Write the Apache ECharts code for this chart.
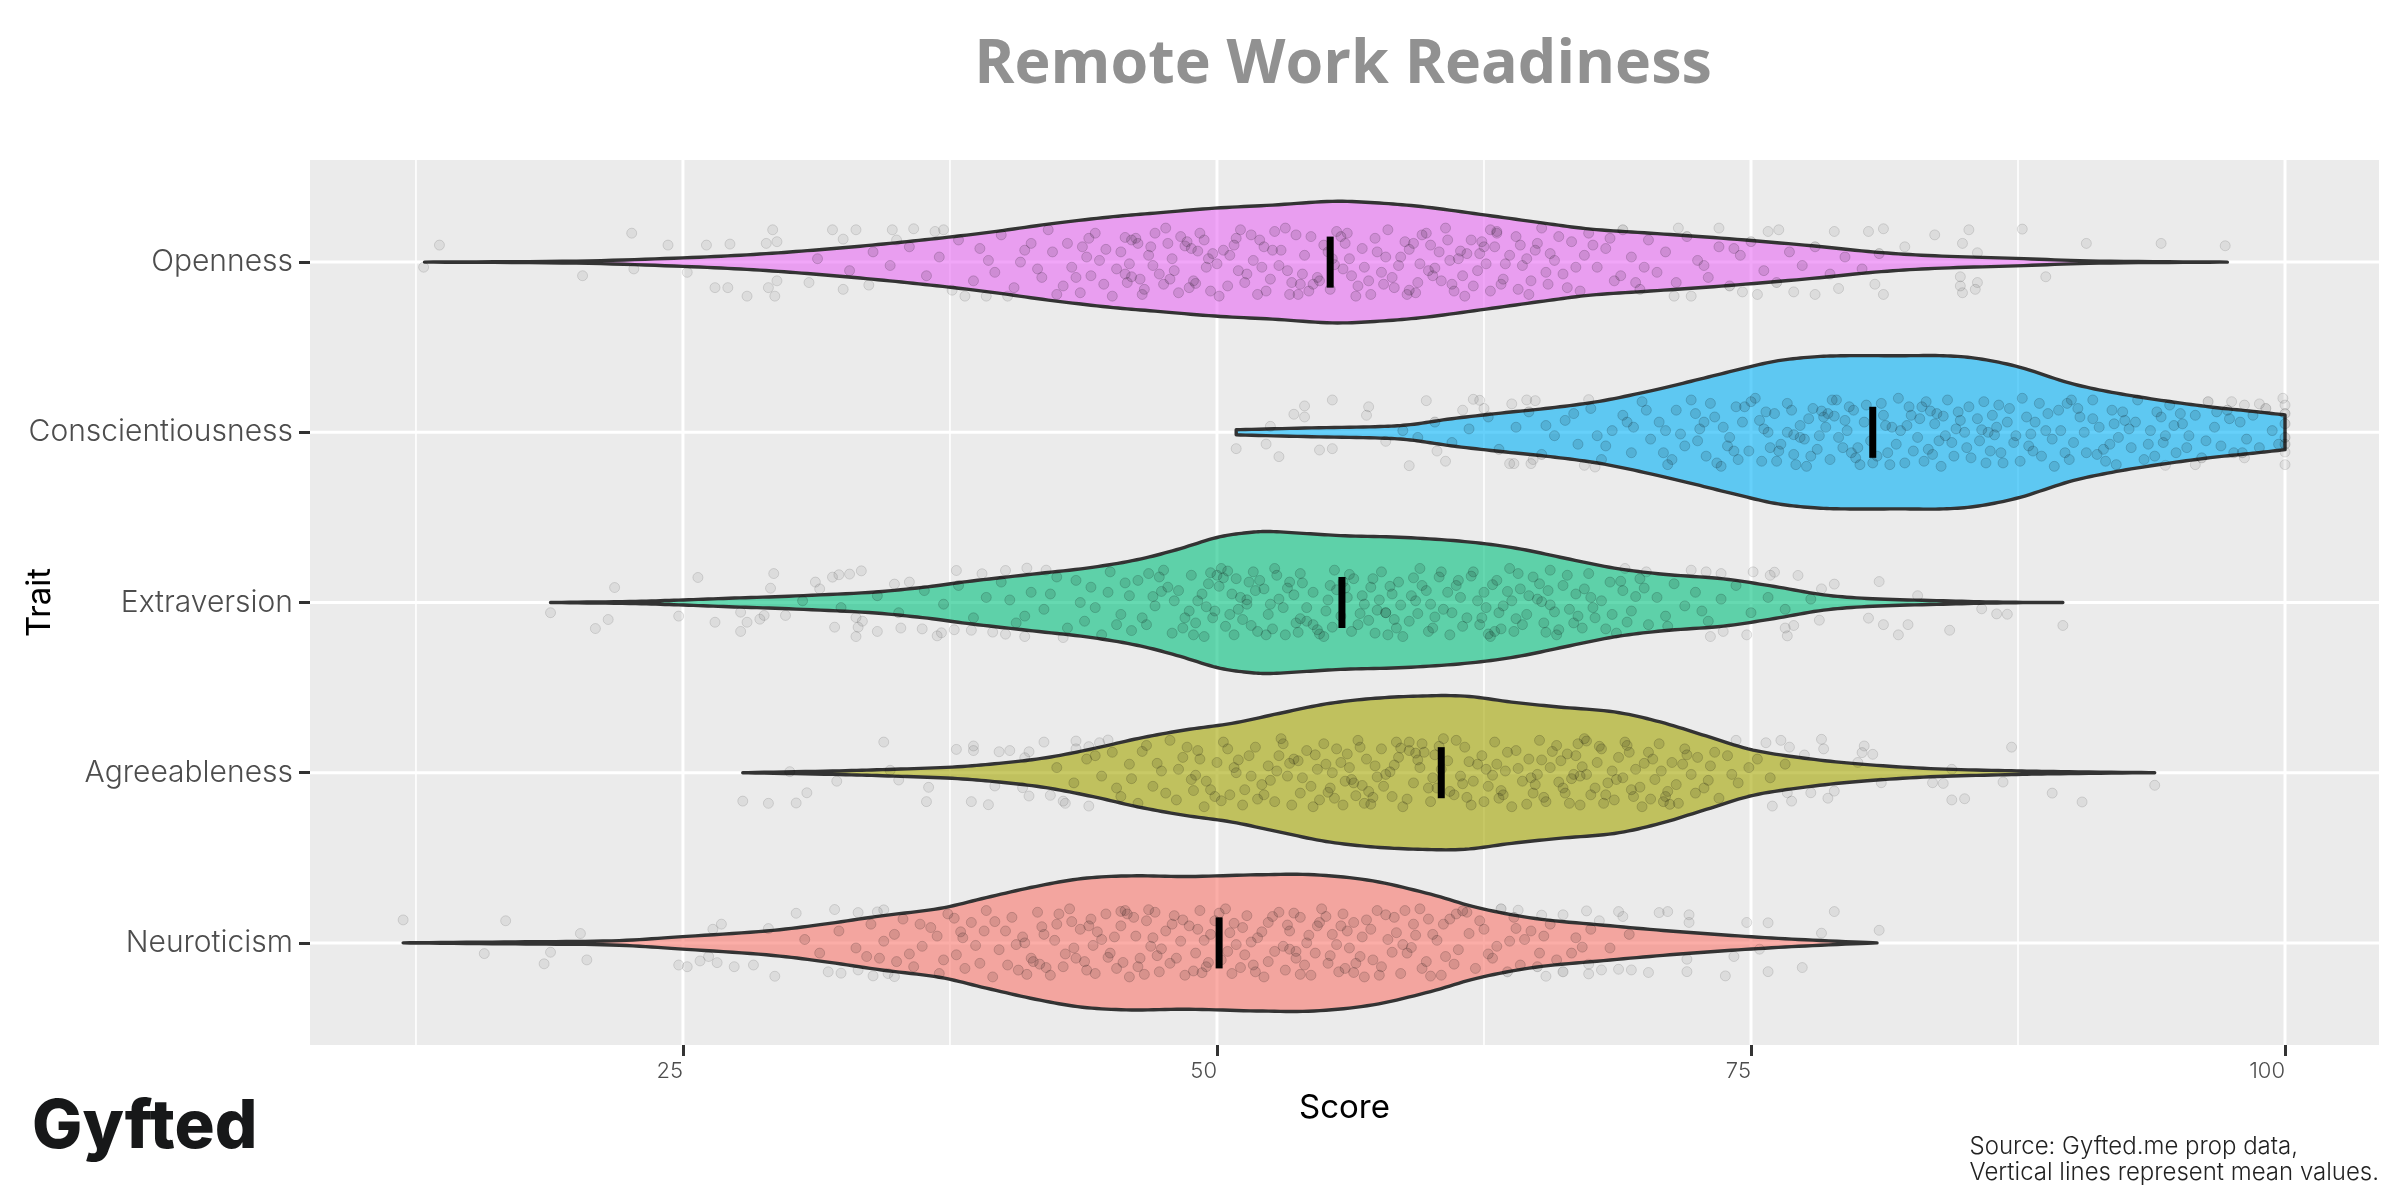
<!DOCTYPE html>
<html><head><meta charset="utf-8">
<style>html,body{margin:0;padding:0;background:#fff}#c{width:2400px;height:1200px}</style>
<script src="https://cdn.jsdelivr.net/npm/echarts@6/dist/echarts.min.js"></script>
</head><body><div id="c"></div>
<script>
const categories = ['Neuroticism','Agreeableness','Extraversion','Conscientiousness','Openness'];
const xTicks = [25,50,75,100];
const xMinor = [12.5,37.5,62.5,87.5];
const means = [50.1,60.5,55.85,80.7,55.3];
const fills = ['#F8766D','#A3A500','#00BF7D','#00B0F6','#E76BF3'];

// violin outlines: score, half-width in hundredths of a category band
const scoreNeuro = [11.9,17.15,21.65,24.8,28.9,31.6,34.3,37,39.2,41.5,43.7,46,48.7,51.85,54.55,57.3,60,62.2,64.9,68.1,71.2,74.4,77.55,80.9];
const widthNeuro = [0,0.6,1.2,3.5,7,11,15.9,20.2,26.6,33.1,37.8,39.4,39,40,40,36.4,28.6,20.7,14.3,10.4,7,4.1,1.8,0];
const scoreAgree = [27.8,32,34.6,37.6,39.8,42,44.2,46.35,48.5,50.7,52.9,55.1,57.2,59.4,61.6,63.8,66,68.6,70.75,72.9,75.1,77.7,80.3,83.4,86.9,89.5,93.9];
const widthAgree = [0,1,1.9,3.3,5.5,8.8,14.1,20.2,25.1,29,34.8,40.4,43.5,45,45,41.5,38.6,35.7,29.8,21.6,13.3,8.2,4.9,2.4,1.2,0.6,0];
const scoreExtra = [18.8,22.5,24.8,27.15,29.95,33.7,36.45,38.3,41.1,43.9,46.25,48.1,50,51.4,52.5,54.2,56,58.8,61.6,64,66.3,68.6,70.9,73.7,76.1,78.4,80.7,84,86.8,89.6];
const widthExtra = [0,0.6,1.4,2.5,3.7,5.9,9.2,12.3,16.3,20.2,25.1,31,38.2,41,41.7,40.5,39.2,38.2,35.8,31.9,26,20.2,16.6,13.9,9.4,4.5,2.2,1,0.2,0];
const scoreConsc = [50.9,54.1,57.4,59.05,61,63.3,65.6,67.9,70.2,72.2,74.2,76.1,77.8,79.4,82,84,85.65,87.6,89.9,91.9,94.2,96.5,98.5,100];
const widthConsc = [1.5,2.5,3.3,4.5,8,11.3,14.3,18.2,24.1,30,36.2,41.7,44.2,45,45,45,43.3,38.2,29,23.5,18.8,14.9,12.3,10.2];
const scoreOpen = [12.9,20,25,28.3,31.1,33.85,36.6,39.4,42.1,44.9,47.1,49.9,52.6,55.4,57.6,59.8,62.6,65.3,67.5,70.3,73.6,77.5,80.8,83.6,87.4,91.3,97.3];
const widthOpen = [0,0.6,2.5,4.5,7,10,13.5,17.6,22.3,26.4,28.8,31.7,33.5,35.7,34.7,32.3,27.6,22.9,19.4,17,14.1,10,5.9,3.7,2.2,0.6,0];

// jittered respondents: score, offset from the row in hundredths of a band. tails read one by one, core estimated
const tailNeuro = [[11.9,13.5],[16.7,13],[20.2,5.5],[15.7,-6.3],[18.8,-5.5],[18.5,-12.3],[20.5,-10],[24.8,-13],[25.2,-14],[25.8,-10.6],[26.2,-8],[26.6,-11.6],[27.4,-14],[28.3,-13],[29.3,-19.6],[26.8,11],[26.4,8],[29,8.4],[30.3,17.4],[32.1,19.6],[33.2,17.8],[34.1,18.2],[34.4,19.4],[31.8,-17],[32.4,-17.8],[33.2,-15.9],[33.9,-19.4],[34.6,-18],[34.9,-19.8],[64.1,19.2],[65.2,16.3],[66.2,16.5],[67.3,18.8],[67.9,13],[68.8,18.4],[69,15.5],[70.7,17.8],[71.1,18.4],[72.1,16.5],[72.1,12],[74.8,12],[75.8,11.8],[78.9,18.4],[78.3,5.7],[81,7.4],[67.4,-12.5],[67.4,-18.2],[65.4,-19.6],[68,-15.9],[68.8,-15.5],[69.4,-15.9],[70.2,-17.4],[72,-16.9],[73.8,-19.4],[75.8,-16.9],[77.4,-14.5],[74.2,-8],[72,-9.6],[75.4,-3.7]];
const coreNeuro = [[30.7,2],[31.4,-6],[32.3,7],[33.1,-3],[33.8,11],[34.2,-9],[34.9,5],[35.3,14],[35.8,-14],[36.2,-2],[36.6,9],[37,-18],[37.4,17],[37.8,-7],[38.1,3],[38.5,12],[38.9,-12],[39.2,19],[39.5,-20],[39.8,-4],[40.1,7],[40.4,15],[40.7,-16],[41,0],[41.3,-9],[41.6,18],[41.9,5],[42.2,-19],[42.5,11],[42.8,-14],[43.1,20],[43.3,-3],[43.6,8],[43.8,-11],[44.1,14],[44.3,-18],[44.6,2],[44.8,17],[45,-6],[45.3,-15],[45.5,10],[45.7,19],[45.9,-20],[46.2,4],[46.4,-9],[46.7,13],[46.9,-2],[47.1,18],[47.3,-17],[47.6,7],[47.8,-12],[48,16],[48.3,1],[48.5,-19],[48.7,10],[49,-6],[49.2,19],[49.5,-14],[49.7,5],[49.9,13],[50.2,-10],[50.4,20],[50.7,-18],[50.9,-1],[51.2,9],[51.4,16],[51.7,-13],[51.9,3],[52.2,-20],[52.4,12],[52.7,-5],[52.9,18],[53.2,-16],[53.4,7],[53.7,-9],[53.9,15],[54.2,0],[54.4,-19],[54.7,10],[54.9,20],[55.2,-12],[55.4,5],[55.7,-17],[55.9,17],[56.2,-3],[56.4,12],[56.7,-8],[56.9,-20],[57.2,8],[57.5,19],[57.7,-14],[58,2],[58.3,15],[58.6,-18],[58.9,-6],[59.2,11],[59.5,20],[59.8,-11],[60.1,5],[60.5,-19],[60.9,14],[61.3,-4],[61.7,18],[62.1,-15],[62.5,8],[62.9,-9],[63.3,20],[63.7,1],[64.2,-13],[64.7,7],[65.1,-6],[65.6,11],[66.2,-17],[66.8,3],[67.5,8],[68.4,-3],[69.3,5],
[45.8,17],[46.1,15],[45.5,18.5],[53.4,-3.7],[53.1,-2],[53.7,-5],[41.7,-12.5],[41.4,-11],[42,-14.5],[56.4,-17.4],[56,-15],[59.1,-2.7],[58.7,-1],[61.5,18.8],[61.2,17],[38.2,-15],[44.4,6.5],[47.4,-3.5],[50.6,6],[54.1,-13],[49.4,1.5],[43.9,-16],[48.9,-16.5],[52.6,15.5],[57.3,-10],[60.3,1.5],[35.6,-6.5],[39.6,12.5],[42.4,1.5],[46.6,-18.5],[51.3,-7],[55.1,15.5],[58.2,-5.5],[63.1,-2],[36.9,4],[40.6,-1],[44.9,-8.5],[47.9,11],[50.1,17.5],[53.3,10.5],[56.1,7],[59.6,-15],[62.3,13],[65.3,4],[37.7,14.5],[41.1,-18.5],[45.2,3.5],[48.1,-9],[51.8,-17],[54.6,-6],[57.9,16.5],[60.7,-8],[64,8.5],[34.4,1],[38.7,-1.5],[43.2,12.5],[46.3,-14],[49.6,-11.5],[52.1,6.5],[55.6,-1],[58.4,6],[61.1,-12.5],[66.6,-6],[36.1,11],[40.2,-13],[42.9,-6.5],[47,3],[50.5,-5],[53.9,-18.5],[56.8,3.5],[59.9,14],[63.6,-17],[33.6,-8],[39.1,7],[44.2,-1.5],[48.4,13.5],[51.6,0.5],[54.8,12],[57.6,-19],[61.8,5.5],[65.9,-10],[35,-11],[37.2,-10],[41.8,9.5],[45.6,-11.5],[49.1,8],[52.4,-11],[55.3,-7.5],[58.8,19],[62.7,-6.5],[67.1,-2.5],[40.9,3.5],[43.4,-9],[46.8,19.5],[50.8,11.5],[54.3,4.5],[57,13.5],[60,-19.5],[64.4,2],[42.6,17],[47.2,-7.5],[51.1,-14.5],[55.8,10],[59.3,4.5],[63.9,15],[38,6.5],[44,10],[49.3,-17.5],[53.6,17.5],[56.5,-12],[60.6,11],[65,-14]];

const tailAgree = [[27.8,-16.7],[29,-18],[30.3,-17.8],[30.8,-11.8],[30,0.6],[32.2,-5],[34.4,18],[34.7,1.4],[35.1,-4.3],[36.4,-17],[36.5,-8.6],[37.8,13.7],[38.6,15.7],[38.6,13],[38.5,-17],[39.3,-18.8],[39.6,-7.8],[39.8,12.3],[40.3,13],[41.2,12.3],[41,8.8],[41.9,18],[41.2,-13.7],[42.2,-13.3],[40.9,-8.8],[42.8,-16.7],[42.9,-18],[44,-19.6],[43.4,18.6],[43.4,14],[44,15.3],[44.5,17.6],[44.9,19.2],[74.3,19],[75.7,17.6],[76.4,19],[76.8,15],[77.5,10.4],[78.3,19.6],[78.4,14],[80.3,15.7],[80.2,11.8],[80.7,10.8],[80,6],[84.4,2],[87.2,15],[81.1,-5.9],[83.5,-5.9],[84,-6.3],[86.8,-5.5],[89.1,-12],[90.5,-17.2],[93.9,-7.4],[84.4,-16],[85,-15.3],[78.9,-10.8],[78.6,-15],[77.8,-11.8],[76.9,-16.7],[76,-19.6],[76.7,-11.8]];
const coreAgree = [[42.5,3],[43.3,-6],[43.9,8],[44.6,-2],[45.1,12],[45.5,-14],[45.9,5],[46.3,-18],[46.7,16],[47,-8],[47.4,1],[47.8,19],[48.1,-16],[48.4,9],[48.8,-4],[49.1,13],[49.4,-20],[49.7,-10],[50,6],[50.3,18],[50.6,-13],[50.9,0],[51.2,-19],[51.5,10],[51.8,15],[52.1,-7],[52.4,4],[52.7,-17],[53,20],[53.3,-2],[53.6,8],[53.9,-12],[54.2,13],[54.5,-20],[54.7,2],[55,17],[55.3,-9],[55.5,-15],[55.8,6],[56.1,11],[56.3,-4],[56.6,19],[56.9,-18],[57.1,-11],[57.4,4],[57.7,14],[57.9,-1],[58.2,-14],[58.5,9],[58.7,-20],[59,18],[59.2,-6],[59.5,3],[59.7,12],[60,-17],[60.3,-9],[60.6,20],[60.8,7],[61.1,-13],[61.4,-2],[61.6,15],[61.9,-19],[62.2,5],[62.4,10],[62.7,-8],[63,18],[63.2,-15],[63.5,1],[63.8,-20],[64,13],[64.3,-5],[64.6,8],[64.8,-12],[65.1,19],[65.4,-17],[65.6,3],[65.9,16],[66.2,-9],[66.4,11],[66.7,-1],[67,-19],[67.2,20],[67.5,-13],[67.8,6],[68,14],[68.3,-6],[68.6,-16],[68.8,9],[69.1,18],[69.4,-10],[69.6,2],[69.9,-20],[70.2,12],[70.5,-4],[70.7,17],[71,-14],[71.3,6],[71.6,-18],[71.9,14],[72.2,-1],[72.5,9],[72.8,-9],[73.1,4],[73.5,-15],[73.9,10],[74.4,-6],[74.9,3],[75.3,8],[75.9,-3],[76.6,5],
[56.4,-6],[56,-5],[56.8,-7.5],[59,13],[58.6,14.5],[59.3,11.5],[67,-2],[66.6,-3.5],[67.3,-1],[71.2,-18.6],[70.9,-17],[53.8,7],[53.4,5.5],[67.3,18.6],[66.9,17],[49.5,-5],[51,7.5],[52.2,-13],[54,-3],[55.6,14],[57.2,-18.5],[58.1,0.5],[60.1,-3],[61.8,6.5],[63.3,-10.5],[65,-1],[66.1,7],[68.1,-18],[69.3,12],[70.8,1],[72.4,-12],[48.6,15],[50.2,-16.5],[52.9,10],[54.8,-16],[56.2,3],[57.8,-8],[59.6,17],[60.9,-11],[62.5,-17],[64.1,2.5],[65.7,12.5],[67.7,-9],[69,-3],[70.4,8],[71.5,-7],[73.3,12],[47.2,5.5],[49.9,-14],[51.6,-2],[53.1,17],[55.2,-11.5],[57,8],[58.9,-15.5],[60.5,2],[62,-5],[63.6,12],[65.3,-14.5],[66.8,10],[68.5,1],[69.8,-8.5],[71.8,5],[46,-3.5],[48.2,2],[50.5,14],[52.5,-4.5],[54.4,-8],[55.9,-19],[57.5,-2.5],[59.4,7.5],[61.2,19],[62.9,-1.5],[64.5,-18.5],[66,-5.5],[67.9,15.5],[69.5,-14],[72,10.5],[44.3,10],[47.6,-12],[49.2,8],[51.3,-10],[53.5,-19],[55.4,0],[56.7,15],[58.3,4.5],[60.2,10.5],[61.7,-14.5],[63.1,5],[64.9,-7],[66.5,-18],[68.2,-13],[70,5.5],[73,-4.5],[45.3,-9],[48.9,-10.5],[50.8,3],[52.8,1],[54.6,10.5],[56.5,-13.5],[58.4,18],[59.9,-9],[61.5,-6.5],[63.4,-13],[65.2,7.5],[67.1,3.5],[69.2,16],[71.1,-11],[74.1,-1],[46.5,12.5],[49,-1.5],[51.9,-15.5],[55.1,5],[57.3,-14.5],[60.4,15.5],[62.6,2],[64.7,-3],[66.3,-12],[68.7,-4],[70.3,-15.5]];

const tailExtra = [[18.8,-6],[21.8,8.8],[20.9,-15.3],[21.5,-10],[24.8,-8],[25.7,14.7],[26.5,-11.6],[27.7,-5.7],[28,-11.6],[27.7,-17],[28.8,-7.6],[28.6,-9.8],[29.8,-7.6],[29.25,17],[29.1,8.4],[31.2,12],[31.4,8],[32,14.9],[32.3,16.3],[32.8,16.7],[33.35,18.6],[32.1,-14.5],[33.2,-14.5],[33.1,-20],[33.4,-11],[33.1,-8.8],[34.1,-17],[35.2,-15],[36.2,-15.5],[36.9,-19.6],[37.1,-17.8],[37.7,-16],[38.5,-16.3],[39.5,-17.4],[40.1,-18.6],[41,-20],[34.9,10.8],[35.6,12],[37.8,18.8],[39,16.9],[40.1,18.8],[41.1,20.2],[42,19],[42.8,-20.6],[69.1,20],[70.1,18],[72.2,19],[72.9,18],[73.6,17],[75.1,18],[75.9,16],[76.1,17.8],[77.2,15.9],[78.9,10.8],[78.3,8],[81,12.3],[82.8,4],[80.5,-9.2],[81.2,-13],[82.35,-13],[81.9,-19],[84.3,-16.3],[85.8,-3.7],[86.5,-6.7],[87,-6.9],[89.6,-13.5],[78.2,-10.4],[77,-13.5],[76.6,-15],[76.7,-19.6],[74.8,-19],[73.1,-20],[73.7,-17]];
const coreExtra = [[30.6,1],[32.4,-3],[34.1,4],[35.1,-6],[36.3,7],[37.2,-1],[37.9,10],[38.6,-9],[39.2,3],[39.9,12],[40.6,-12],[41.3,6],[41.9,-4],[42.5,15],[43,-15],[43.6,0],[44.1,9],[44.6,-19],[45,18],[45.5,-7],[45.9,4],[46.3,13],[46.7,-13],[47.1,-2],[47.5,19],[47.9,-18],[48.2,7],[48.5,-9],[48.8,16],[49.1,1],[49.4,-20],[49.6,11],[49.9,-5],[50.2,20],[50.4,-14],[50.7,5],[50.9,14],[51.2,-10],[51.4,-1],[51.7,18],[51.9,-17],[52.2,8],[52.4,-7],[52.7,20],[52.9,2],[53.2,-19],[53.4,12],[53.7,-12],[53.9,17],[54.2,-3],[54.5,6],[54.7,-16],[55,-20],[55.3,10],[55.5,19],[55.8,-8],[56.1,3],[56.4,14],[56.6,-13],[56.9,-1],[57.2,9],[57.4,-18],[57.7,18],[57.9,-6],[58.2,5],[58.5,12],[58.7,-20],[59,-11],[59.3,1],[59.5,20],[59.8,7],[60.1,-15],[60.4,15],[60.6,-4],[60.9,-19],[61.2,10],[61.4,3],[61.7,-9],[62,18],[62.3,-13],[62.5,6],[62.8,-20],[63.1,13],[63.4,-2],[63.7,20],[63.9,-17],[64.2,8],[64.5,-7],[64.8,15],[65,2],[65.3,-12],[65.6,19],[65.9,-19],[66.2,10],[66.5,-4],[66.8,5],[67.1,-15],[67.4,17],[67.7,-9],[68,1],[68.4,12],[68.7,-18],[69,7],[69.4,-5],[69.8,14],[70.2,-13],[70.6,3],[71,-8],[71.4,11],[71.9,-2],[72.4,6],[73,-11],[73.6,2],[74.3,10],[75,-6],[75.8,3],[76.6,-4],[77.8,2],
[63,-17],[62.7,-18.5],[63.3,-15.5],[54.2,-11],[53.9,-9.5],[54.5,-13],[50,16],[49.7,17.5],[50.3,14.5],[51.4,1.6],[51.1,3],[57.9,-6],[57.5,-4.5],[65.6,-1.4],[65.2,0.5],[47.7,9],[49,-12],[50.6,-7],[52,13],[53.1,-3],[55.2,1.5],[56.2,16.5],[57.1,-10.5],[58.4,-15],[59.6,10],[61,-6],[62.2,1],[64,-9.5],[65.1,11],[66.4,16],[67.6,-3],[68.9,12.5],[44.3,-3],[45.7,11.5],[47,3.5],[48.4,-15],[49.3,5],[50.8,-19],[51.8,7],[52.6,-15.5],[53.6,4.5],[55.1,-5],[56,8.5],[57.3,14],[58.6,-1.5],[59.9,-17],[60.8,6],[61.9,15.5],[63.2,-6],[64.6,4],[66,-16],[67.2,8],[69.2,-11.5],[42.2,5],[43.8,-11],[46,-16.5],[47.3,15],[48.7,-5],[50.1,9.5],[51.5,12],[52.3,-19],[54,11.5],[55.4,-14.5],[56.8,4],[58,-19],[59.2,14.5],[60.2,-8.5],[61.5,-14],[62.9,10.5],[64.3,-13],[65.5,7],[66.9,-8],[68.2,-15.5],[70,8.5],[41,-8],[44.9,6],[46.5,-9],[48,1],[49.5,-2.5],[50.5,18.5],[52.5,-1],[53.8,-17.5],[55.6,7.5],[56.7,-6.5],[58.1,9.5],[59.4,-6.5],[60.5,18],[62.4,-9],[63.6,6.5],[65.8,-5.5],[67.5,3],[71.1,-14],[45.3,-13],[47.4,6.5],[49.8,-9],[51,-4],[52.8,16],[54.8,-18.5],[56.3,-17],[57.6,1.5],[59.1,4],[61.3,13],[62.6,-3],[64.1,17],[66.7,-12],[68.5,-7],[72.7,-5],[40.3,1.5],[43.4,13],[46.8,17],[48.9,-19],[51.6,-13.5],[53.3,8.5],[55.9,12],[58.3,-10],[60,-1],[63.8,1],[65.4,-17.5],[69.6,3.5]];

const tailConsc = [[50.9,-9.6],[52.3,-6.9],[52.9,-14.3],[52.5,3.5],[53.6,10.6],[54.1,15.5],[54.1,9],[55.4,19],[54.8,-10.4],[55.4,-9.6],[57,10],[57.1,15],[57.9,-5.3],[59,-19.6],[59.8,18.6],[60.3,-11],[60.7,-17],[61.5,13],[62,19.4],[62.5,14],[62.3,18.8],[63.8,16.7],[64.5,19],[64.9,18.6],[63.7,-18.4],[63.9,-18.4],[64.8,-16],[64.7,-18.4],[67.2,-19.4],[67.7,-20.4],[67.4,19.2],[99.9,20],[100,16],[100,-11.6],[100,-19],[95.8,-19],[94.4,-19.4],[97.5,18],[98.1,16],[98.8,16.7],[98.1,-15]];
const coreConsc = [[58.7,1],[59.4,-3],[60.2,6],[61,-6],[61.8,2],[62.7,9],[63.2,-10],[64,3],[64.6,12],[65.2,-13],[65.8,-2],[66.3,7],[66.9,-7],[67.5,14],[68,-16],[68.5,1],[69,10],[69.4,-12],[69.9,18],[70.3,-4],[70.7,6],[71.1,-19],[71.5,13],[71.9,-8],[72.2,19],[72.6,2],[72.9,-14],[73.3,9],[73.6,-20],[74,-3],[74.3,15],[74.6,6],[74.9,-11],[75.2,20],[75.5,-17],[75.8,0],[76.1,11],[76.4,-7],[76.7,17],[77,-13],[77.3,4],[77.6,-20],[77.9,14],[78.2,-2],[78.4,9],[78.7,-16],[79,19],[79.3,-9],[79.5,1],[79.8,13],[80.1,-19],[80.3,6],[80.6,-5],[81.1,17],[81.4,-12],[81.6,3],[81.9,20],[82.2,-18],[82.5,10],[82.8,-3],[83,15],[83.3,-10],[83.6,5],[83.9,-20],[84.2,19],[84.4,-6],[84.7,12],[85,0],[85.3,-15],[85.6,8],[85.9,18],[86.2,-11],[86.5,3],[86.8,-18],[87.1,14],[87.4,-2],[87.7,20],[88,-8],[88.3,6],[88.6,-14],[88.9,11],[89.2,-20],[89.5,1],[89.8,17],[90.1,-6],[90.4,9],[90.7,-12],[91,19],[91.3,3],[91.6,-17],[91.9,13],[92.2,-3],[92.5,7],[92.8,-9],[93.1,19],[93.4,-16],[93.7,1],[94,12],[94.3,-6],[94.6,16],[94.9,-12],[95.2,5],[95.5,-2],[95.8,10],[96.1,-15],[96.4,18],[96.7,3],[97,-8],[97.3,13],[97.6,-12],[97.9,6],[98.2,-4],[98.5,10],[98.8,-9],[99.1,14],[99.4,1],[99.7,-7],[100,5],[100,11],[100,-3],[100,-7],
[78.6,11],[78.3,12.5],[78.9,9.5],[83.7,11],[83.4,12.5],[84,9.5],[86.1,0],[85.8,1.5],[86.4,-1.5],[77,-1.4],[76.7,0],[77.3,-3],[82.3,4],[80.9,-14],[79.7,-12],[75.4,7],[73.9,-8],[72.4,11],[70.9,-12],[69.5,3],[68.2,-8],[66.7,11],[65.4,4],[74.7,15],[76.2,-17],[77.7,8],[79.1,-3],[80.4,16],[81.8,-7],[83.1,-17],[84.6,2],[85.2,15],[86.7,-12],[87.9,9],[89.1,-4],[90.3,14],[91.5,-10],[92.7,2],[93.9,-14],[95.1,11],[96.3,-5],[97.4,8],[71.7,-1],[73.1,17],[74.4,-16],[75.7,12],[77.1,-19],[78.5,3],[79.9,-15],[81.2,10],[82.6,-11],[83.8,-5],[85.1,-9],[86.3,10],[87.6,-17],[88.8,1],[90,19],[91.2,-13],[92.4,12],[93.6,-7],[94.8,4],[72.8,6],[74.2,-11],[75.6,2],[76.9,13],[78.1,-10],[79.4,7],[80.7,-18],[82,1],[83.2,18],[84.5,-14],[85.7,-5],[87,6],[88.2,-11],[89.4,13],[90.6,0],[91.8,-7],[93,6],[94.2,9],[70.1,13],[71.3,-16],[72.5,-5],[73.7,3],[75,18],[76.3,-11],[77.5,-4],[78.8,19],[80,-9],[81.3,4],[82.4,15],[83.5,-13],[84.8,7],[86,-18],[87.3,-6],[88.5,17],[89.7,-12],[91,8],[92.1,-19],[95.4,-9],[96.8,12],[67.8,-2],[69.2,6],[71,1],[73.4,-18],[75.9,-9],[77.8,-14],[79.6,15],[81.5,-19],[82.9,8],[84.1,-2],[86.6,16],[88.1,-1],[89.9,-16],[92,5],[94.4,-2],[98,-12]];

const tailOpen = [[12.86,-3],[13.6,10],[20.3,-8],[22.6,17],[22.7,-4],[24.3,10],[25.2,-6],[26.1,10],[27.2,10.6],[26.5,-15],[27.1,-15],[28,-20],[29.3,-20],[29,-15],[29.4,-11],[28.9,11],[29.4,12],[29.2,19],[30.9,-12],[32,19],[33.1,19],[32.5,13.5],[32.5,-16],[33.7,-13.5],[34.8,19],[35.8,19.6],[37.2,19],[36.8,18],[35,13],[37.6,-16.5],[38.2,-20],[39.2,-20],[40.2,-20],[71.6,20],[73.5,20],[75.8,18],[76.3,19],[78.9,18],[80.5,18],[81.2,19.6],[83.6,16],[85.2,19],[87.7,19.4],[84.9,11],[90.7,11],[94.2,11],[97.2,9.6],[82.2,9],[85.6,5.5],[88.8,-8.6],[84.8,-8.6],[85.6,-12],[84.8,-14],[84.9,-18],[85.5,-16],[81.2,-19],[80.8,-13],[79.1,-15.5],[78,-19],[77,-17.5],[75.3,-19],[74.6,-17.5],[72.2,-20],[71.4,-20]];
const coreOpen = [[31.3,2],[32.8,-5],[33.9,6],[34.7,-2],[35.6,9],[36.4,-8],[37,3],[37.9,13],[38.6,-11],[39.3,1],[39.9,16],[40.5,-15],[41,7],[41.6,-4],[42.1,19],[42.5,-19],[43,11],[43.4,-9],[43.9,3],[44.3,17],[44.7,-13],[45.1,-20],[45.5,6],[45.9,-1],[46.2,14],[46.6,-16],[46.9,9],[47.3,-7],[47.6,20],[47.9,2],[48.2,-18],[48.6,12],[48.9,-11],[49.2,17],[49.5,-3],[49.8,5],[50.1,-20],[50.5,-14],[50.8,10],[51.1,19],[51.4,-7],[51.7,1],[52,13],[52.3,-17],[52.6,7],[52.9,-2],[53.2,20],[53.5,-12],[53.8,-19],[54.1,4],[54.4,15],[54.7,-9],[55,10],[55.3,-16],[55.6,18],[55.9,-4],[56.2,2],[56.5,-20],[56.8,8],[57.1,-11],[57.4,14],[57.7,-6],[58,19],[58.3,-15],[58.6,3],[58.9,-19],[59.2,11],[59.5,-1],[59.8,17],[60.1,-8],[60.4,6],[60.7,20],[61,-13],[61.3,2],[61.6,-20],[61.9,13],[62.2,-5],[62.5,9],[62.8,-17],[63.1,18],[63.4,-10],[63.7,4],[64,15],[64.3,-2],[64.6,-19],[64.9,7],[65.2,20],[65.5,-13],[65.8,1],[66.2,-7],[66.6,12],[67,-17],[67.4,17],[67.8,-3],[68.2,8],[68.6,-11],[69,19],[69.4,3],[69.8,-16],[70.2,13],[70.6,-6],[71,6],[71.5,-12],[72,15],[72.5,1],[73,-9],[73.5,9],[74,-14],[74.5,4],[75,12],[75.6,-5],[76.2,-12],[76.8,6],[77.4,-2],[78,9],[78.7,-7],[79.4,3],[80.2,-4],[81,5],
[46,13],[45.7,14.5],[46.3,11],[48.8,8],[48.5,9.5],[49.1,6.5],[46,-8.6],[45.7,-7],[46.4,-10],[54.8,-11],[54.5,-13],[59.3,-18],[59,-16.5],[63.1,17],[62.8,19],[61.7,5],[61.4,6.5],[43.2,-3],[44.8,7.5],[47.5,-13],[48.3,15],[50,-1],[51.3,-12],[52.2,9],[53.3,-5],[55.2,6],[56.6,-14],[57.9,3],[59,7.5],[60.5,-11],[62,-14],[63.5,-1],[65,11],[66.4,-15],[42.8,-14],[44.5,1],[46.8,4],[48,-5],[49.7,-17],[50.9,14],[52.5,-10],[53.7,16],[55.5,-1.5],[56.9,-3],[58.2,-9],[59.6,16],[60.9,1],[62.4,12],[64.1,-16],[65.6,5],[67.6,10],[41.3,11],[43.6,-18],[45.3,-4],[47.1,17],[49,-12.5],[50.6,4],[51.9,-19],[53,7],[54.3,-17],[56,11],[57.2,-19],[58.8,12],[60.2,-3.5],[61.5,-8],[63,9],[64.5,2],[66,15],[68.9,-8],[39.6,-6],[42.3,6],[44.1,-8],[46.5,-19],[47.8,-10],[49.4,13],[51,-5],[52.7,18],[54,-7],[55.8,15],[57.5,6],[59.4,-12],[60.8,13],[62.6,-1],[64.7,-11],[67.2,4],[70,-3],[38.9,8],[41.8,-9],[44,14],[47,-2],[48.7,-15],[50.3,7],[52.1,-3],[53.9,-13],[55.4,2],[56.3,-8],[58.5,-2],[60,10],[61.1,-17],[63.3,-13],[65.4,-6],[68.4,14],[72.8,-2],[40.8,0],[43.7,9],[45.8,-12],[47.7,11],[49.6,2],[51.6,16],[53.4,-19],[56.1,17],[57.8,-13],[59.9,-5],[62.3,5],[64.2,10],[66.8,-3],[69.6,-12],[74.2,8]];

const allTails = [tailNeuro,tailAgree,tailExtra,tailConsc,tailOpen];
const allCores = [coreNeuro,coreAgree,coreExtra,coreConsc,coreOpen];
const allScores = [scoreNeuro,scoreAgree,scoreExtra,scoreConsc,scoreOpen];
const allWidths = [widthNeuro,widthAgree,widthExtra,widthConsc,widthOpen];

function spline(p){ // Catmull-Rom through the read outline, drawing only
  const out=[];
  for(let i=0;i<p.length-1;i++){
    const a=p[Math.max(i-1,0)],b=p[i],c=p[i+1],d=p[Math.min(i+2,p.length-1)];
    for(let k=0;k<10;k++){
      const t=k/10,t2=t*t,t3=t2*t;
      out.push([
        0.5*(2*b[0]+(c[0]-a[0])*t+(2*a[0]-5*b[0]+4*c[0]-d[0])*t2+(3*b[0]-a[0]-3*c[0]+d[0])*t3),
        0.5*(2*b[1]+(c[1]-a[1])*t+(2*a[1]-5*b[1]+4*c[1]-d[1])*t2+(3*b[1]-a[1]-3*c[1]+d[1])*t3)]);
    }
  }
  out.push(p[p.length-1]);
  return out;
}
function hexA(h,a){const n=parseInt(h.slice(1),16);return `rgba(${n>>16},${(n>>8)&255},${n&255},${a})`;}

const renderViolin=(params,api)=>{
  const i=api.value(0), pos=i+1;
  const s=allScores[i], w=allWidths[i];
  const top=spline(s.map((v,k)=>[v,Math.max(w[k],0)]));
  const upper=top.map(q=>api.coord([q[0],pos+Math.max(q[1],0)/100]));
  const lower=top.map(q=>api.coord([q[0],pos-Math.max(q[1],0)/100])).reverse();
  return {type:'polygon',shape:{points:upper.concat(lower)},
    style:{fill:hexA(fills[i],0.6),stroke:'#333333',lineWidth:3.4,lineJoin:'round'}};
};
const renderMean=(params,api)=>{
  const i=api.value(0), a=api.coord([means[i],i+1+0.15]), b=api.coord([means[i],i+1-0.15]);
  return {type:'line',shape:{x1:a[0],y1:a[1],x2:b[0],y2:b[1]},style:{stroke:'#000',lineWidth:7}};
};
const renderGrid=(params,api)=>{
  const kind=api.value(0), v=api.value(1);
  let a,b,lw;
  if(kind===0){a=api.coord([v,0.4]);b=api.coord([v,5.6]);lw=3;}
  else if(kind===1){a=api.coord([v,0.4]);b=api.coord([v,5.6]);lw=1.6;}
  else {a=api.coord([7.54,v]);b=api.coord([104.4,v]);lw=3;}
  return {type:'line',shape:{x1:a[0],y1:a[1],x2:b[0],y2:b[1]},style:{stroke:'#fff',lineWidth:lw}};
};
const gridData=[...xTicks.map(v=>[0,v]),...xMinor.map(v=>[1,v]),...categories.map((c,i)=>[2,i+1])];

const labelFont='Inter';
const chart=echarts.init(document.getElementById('c'),null,{renderer:'canvas'});
const series=[
 {type:'custom',renderItem:renderGrid,data:gridData,silent:true,z:1,encode:{x:1}},
 {type:'custom',renderItem:renderViolin,data:[[0],[1],[2],[3],[4]],silent:true,z:2,clip:false}
];
allTails.forEach((p,i)=>series.push({type:'scatter',data:p.map(q=>[q[0],i+1+q[1]/100]),symbol:'circle',symbolSize:10,silent:true,z:3,
  itemStyle:{color:'rgba(0,0,0,0.08)',borderColor:'rgba(0,0,0,0.14)',borderWidth:1}}));
allCores.forEach((p,i)=>series.push({type:'scatter',data:p.map(q=>[q[0],i+1+q[1]/100]),symbol:'circle',symbolSize:10,silent:true,z:3,
  itemStyle:{color:'rgba(0,0,0,0.14)',borderColor:'rgba(0,0,0,0.20)',borderWidth:1}}));
series.push({type:'custom',renderItem:renderMean,data:[[0],[1],[2],[3],[4]],silent:true,z:4});

chart.setOption({
 animation:false,
 backgroundColor:'#fff',
 title:{text:'Remote Work Readiness',left:1338,top:30,textAlign:'center',
   textStyle:{fontFamily:'Open Sans',fontWeight:'bold',fontSize:61,color:'#919191'}},
 grid:{left:310,right:21,top:160,bottom:155,show:true,backgroundColor:'#EBEBEB',borderWidth:0,outerBoundsMode:'none'},
 xAxis:{type:'value',min:7.54,max:104.4,name:'Score',nameLocation:'middle',nameGap:47,nameMoveOverlap:false,
   nameTextStyle:{fontFamily:labelFont,fontSize:33,color:'#000'},
   axisLine:{show:false},splitLine:{show:false},
   axisTick:{show:true,length:11,customValues:xTicks,lineStyle:{color:'#333',width:3}},
   axisLabel:{show:true,customValues:xTicks,align:'right',margin:15,fontFamily:labelFont,fontWeight:300,fontSize:22,color:'#4D4D4D'}},
 yAxis:{type:'value',min:0.4,max:5.6,name:'Trait',nameLocation:'middle',nameGap:253,nameRotate:90,nameMoveOverlap:false,
   nameTextStyle:{fontFamily:labelFont,fontSize:33,color:'#000'},
   axisLine:{show:false},splitLine:{show:false},
   axisTick:{show:true,length:11,customValues:[1,2,3,4,5],lineStyle:{color:'#333',width:3}},
   axisLabel:{show:true,customValues:[1,2,3,4,5],margin:17,fontFamily:labelFont,fontWeight:300,fontSize:30,color:'#4D4D4D',
     formatter:v=>categories[Math.round(v)-1]}},
 series,
 graphic:[
  {type:'text',left:32,top:1094,style:{text:'Gyfted',font:'800 67px Inter',fill:'#171819'}},
  {type:'text',right:21,top:1134,style:{text:'Source: Gyfted.me prop data,\nVertical lines represent mean values.',align:'right',font:'300 24px Inter',lineHeight:26,fill:'#222'}}
 ]
});
</script></body></html>
